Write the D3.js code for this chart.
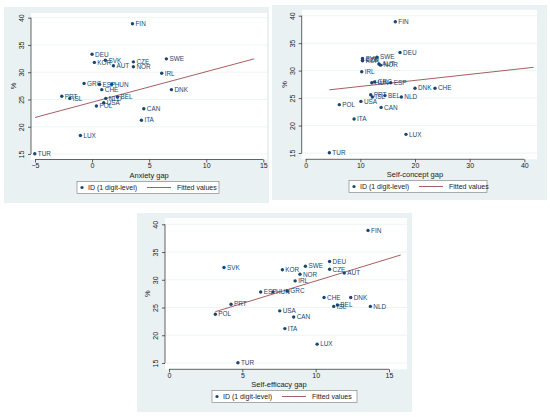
<!DOCTYPE html>
<html>
<head>
<meta charset="utf-8">
<script src="https://cdn.jsdelivr.net/npm/d3@7"></script>
<style>
  body { margin: 0; background: #fff; }
  text { font-family: "Liberation Sans", Arial, sans-serif; }
</style>
</head>
<body>
<div id="chart"></div>
<script>
// countries and share (%) are shared by all three panels
var countries = ['FIN','DEU','SWE','SVK','CZE','KOR','AUT','NOR','IRL','GRC','ESP','HUN',
                 'CHE','DNK','PRT','BEL','ISL','NLD','USA','POL','CAN','ITA','LUX','TUR'];
var share = [38.9,33.3,32.45,32.2,31.9,31.8,31.2,31.0,29.8,27.95,27.8,27.8,
             26.8,26.8,25.6,25.45,25.2,25.2,24.4,23.8,23.3,21.2,18.4,15.05];

var anxietyGap = [3.54,0.0,6.51,1.17,3.62,0.2,1.87,3.62,6.1,-0.7,0.65,1.72,
                  0.85,6.95,-2.65,2.22,-1.95,1.2,1.02,0.38,4.53,4.32,-1.02,-5.02];
var selfConceptGap = [16.4,17.26,13.05,10.4,10.4,10.4,13.4,13.7,10.25,12.6,15.55,12.1,
                      23.66,20.0,11.9,14.5,12.2,17.5,10.1,6.15,13.8,8.85,18.35,4.33];
var selfEfficacyGap = [13.57,10.95,9.3,3.75,10.95,7.73,11.95,8.93,8.6,8.07,6.25,7.09,
                       10.57,12.39,4.23,11.48,11.23,13.73,7.55,3.16,8.5,7.9,10.1,4.7];

// fitted values (end points)
var fitAnxietyX = [-5, 14.2], fitAnxietyY = [21.7, 32.45];
var fitConceptX = [4.33, 41.7], fitConceptY = [26.5, 30.6];
var fitEfficacyX = [3.16, 15.8], fitEfficacyY = [24.25, 34.47];

var yTicks = [15, 20, 25, 30, 35, 40];
var anxietyTicks = [-5, 0, 5, 10, 15];
var conceptTicks = [0, 10, 20, 30, 40];
var efficacyTicks = [0, 5, 10, 15];

var bgColor = '#eaf1f3';
var navy = '#1a476f';
var maroon = '#90353b';

var svg = d3.select('#chart').append('svg')
  .attr('width', 550)
  .attr('height', 417);

function drawPanel(p) {
  var g = svg.append('g');

  g.append('rect')
    .attr('x', p.bg[0]).attr('y', p.bg[1])
    .attr('width', p.bg[2]).attr('height', p.bg[3])
    .attr('fill', bgColor);

  g.append('rect')
    .attr('x', p.plot[0]).attr('y', p.plot[1])
    .attr('width', p.plot[2] - p.plot[0]).attr('height', p.plot[3] - p.plot[1])
    .attr('fill', '#fff');

  var x = d3.scaleLinear().domain([p.xTicks[0], p.xTicks[p.xTicks.length - 1]]).range(p.xRange);
  var y = d3.scaleLinear().domain([15, 40]).range(p.yRange);

  // grid
  g.selectAll('.grid').data(yTicks).enter().append('line')
    .attr('x1', p.plot[0]).attr('x2', p.plot[2])
    .attr('y1', function(d) { return y(d); })
    .attr('y2', function(d) { return y(d); })
    .attr('stroke', bgColor).attr('stroke-width', 0.8);

  // x axis
  var xAxis = g.append('g')
    .attr('transform', 'translate(0,' + p.plot[3] + ')')
    .call(d3.axisBottom(x).tickValues(p.xTicks).tickSize(3).tickPadding(1));
  xAxis.select('.domain').remove();
  xAxis.append('line')
    .attr('x1', x(p.xTicks[0])).attr('x2', x(p.xTicks[p.xTicks.length - 1]))
    .attr('stroke', '#222').attr('stroke-width', 0.7);
  xAxis.selectAll('text').attr('font-size', 7).attr('fill', '#222')
    .attr('font-family', '"Liberation Sans", Arial, sans-serif');
  xAxis.selectAll('.tick line').attr('stroke', '#222').attr('stroke-width', 0.7);

  // y axis
  var yAxis = g.append('g')
    .attr('transform', 'translate(' + p.plot[0] + ',0)')
    .call(d3.axisLeft(y).tickValues(yTicks).tickSize(3).tickPadding(0));
  yAxis.select('.domain').remove();
  yAxis.append('line')
    .attr('y1', y(15)).attr('y2', y(40))
    .attr('stroke', '#222').attr('stroke-width', 0.7);
  yAxis.selectAll('.tick line').attr('stroke', '#222').attr('stroke-width', 0.7);
  yAxis.selectAll('text')
    .attr('font-size', 7).attr('fill', '#222')
    .attr('font-family', '"Liberation Sans", Arial, sans-serif')
    .attr('x', 0).attr('dy', 0)
    .attr('text-anchor', 'middle')
    .attr('transform', 'translate(-7,0) rotate(-90)');

  g.append('text')
    .attr('transform', 'translate(' + (p.plot[0] - 15) + ',' + ((p.yRange[0] + p.yRange[1]) / 2) + ') rotate(-90)')
    .attr('text-anchor', 'middle')
    .attr('font-size', 7.5).attr('fill', '#222')
    .text('%');

  g.append('text')
    .attr('x', (p.xRange[0] + p.xRange[1]) / 2)
    .attr('y', p.plot[3] + 18)
    .attr('text-anchor', 'middle')
    .attr('font-size', 7.5).attr('fill', '#222')
    .text(p.title);

  // fitted line
  var fit = p.fitX.map(function(v, i) { return [v, p.fitY[i]]; });
  g.append('path')
    .datum(fit)
    .attr('d', d3.line().x(function(d) { return x(d[0]); }).y(function(d) { return y(d[1]); }))
    .attr('stroke', maroon).attr('stroke-width', 0.8).attr('fill', 'none');

  // points + labels
  var pts = countries.map(function(c, i) { return { c: c, x: p.xs[i], y: share[i] }; });
  g.selectAll('.dot').data(pts).enter().append('circle')
    .attr('cx', function(d) { return x(d.x); })
    .attr('cy', function(d) { return y(d.y); })
    .attr('r', 1.7)
    .attr('fill', navy);
  g.selectAll('.lbl').data(pts).enter().append('text')
    .attr('x', function(d) { return x(d.x) + 3; })
    .attr('y', function(d) { return y(d.y) + 2.3; })
    .attr('font-size', 6.4)
    .attr('fill', navy)
    .text(function(d) { return d.c; });

  // legend
  var lg = g.append('g').attr('transform', 'translate(' + p.legend[0] + ',' + p.legend[1] + ')');
  lg.append('rect')
    .attr('width', p.legend[2]).attr('height', 12)
    .attr('fill', '#fff').attr('stroke', '#777').attr('stroke-width', 0.6);
  lg.append('circle').attr('cx', 5).attr('cy', 6).attr('r', 1.6).attr('fill', navy);
  lg.append('text').attr('x', 11).attr('y', 8.6).attr('font-size', 7).attr('fill', '#222')
    .text('ID (1 digit-level)');
  lg.append('line').attr('x1', 70).attr('x2', 94).attr('y1', 6).attr('y2', 6)
    .attr('stroke', maroon).attr('stroke-width', 0.8);
  lg.append('text').attr('x', 100).attr('y', 8.6).attr('font-size', 7).attr('fill', '#222')
    .text('Fitted values');
}

drawPanel({
  bg: [4, 7, 265, 196], plot: [31, 13, 267, 159.5],
  xRange: [35, 263.3], yRange: [154, 17.7],
  xTicks: anxietyTicks, xs: anxietyGap,
  fitX: fitAnxietyX, fitY: fitAnxietyY,
  title: 'Anxiety gap', legend: [77, 181.5, 142]
});

drawPanel({
  bg: [272, 5, 275, 195], plot: [301.7, 10, 537, 159.3],
  xRange: [305.7, 524.3], yRange: [153, 15.7],
  xTicks: conceptTicks, xs: selfConceptGap,
  fitX: fitConceptX, fitY: fitConceptY,
  title: 'Self-concept gap', legend: [349, 180.5, 138]
});

drawPanel({
  bg: [137, 213, 275, 199], plot: [165, 218, 407, 369.3],
  xRange: [169, 389], yRange: [363, 224.3],
  xTicks: efficacyTicks, xs: selfEfficacyGap,
  fitX: fitEfficacyX, fitY: fitEfficacyY,
  title: 'Self-efficacy gap', legend: [212, 390.5, 145]
});
</script>
</body>
</html>
